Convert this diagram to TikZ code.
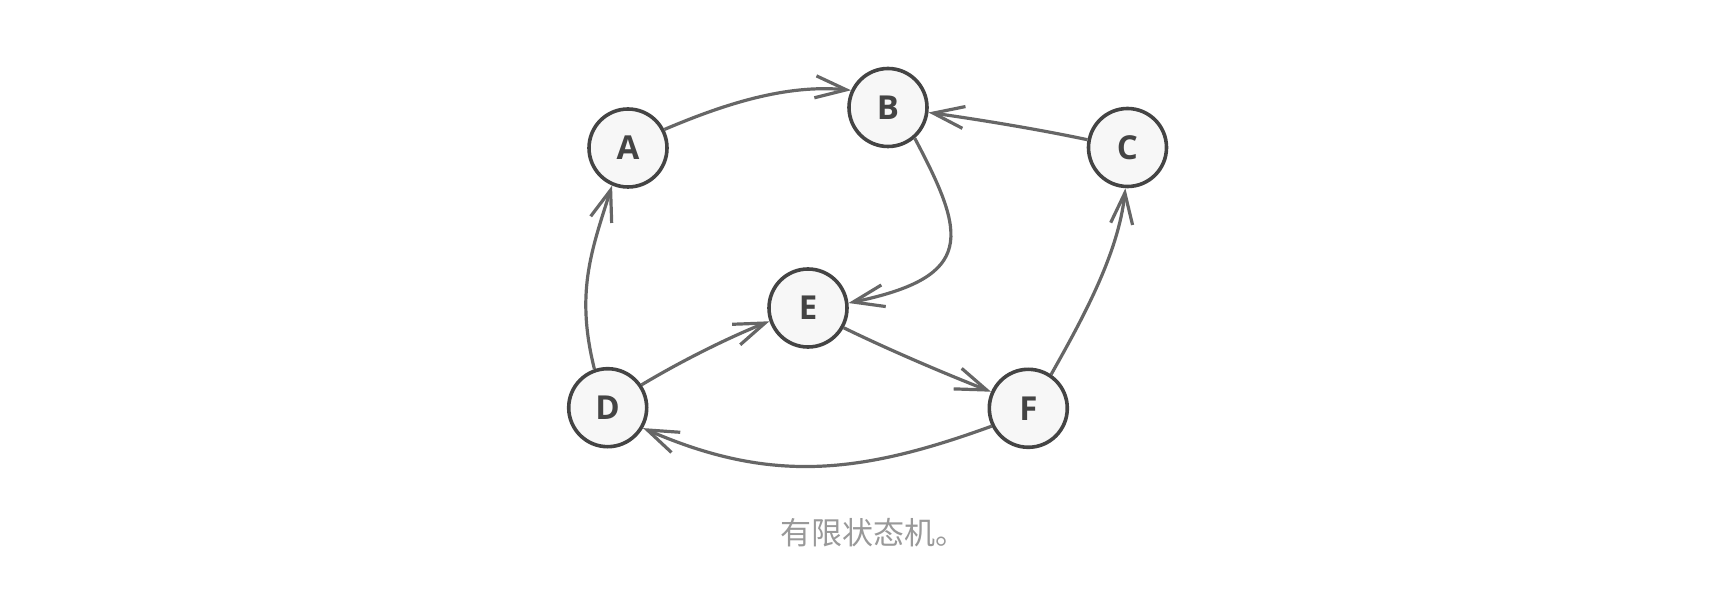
\documentclass[tikz,border=0pt]{standalone}
\usepackage{fontspec}
\setmainfont{Open Sans}
\newfontfamily\cjkfont{Noto Sans CJK SC}
\usetikzlibrary{arrows.meta}
\definecolor{nodeline}{HTML}{444444}
\definecolor{nodefill}{HTML}{F7F7F7}
\definecolor{edgecol}{HTML}{666666}
\definecolor{capcol}{HTML}{999999}
\begin{document}
\begin{tikzpicture}[x=0.5pt,y=0.5pt,
  state/.style={circle,draw=nodeline,fill=nodefill,line width=1.8pt,minimum size=39pt,inner sep=0pt,
    text=nodeline,font=\fontsize{16.5}{18}\selectfont\bfseries},
  conn/.style={draw=edgecol,line width=1.6pt,-{Straight Barb[length=15.5pt,width=11pt]}}]
\useasboundingbox (0,0) rectangle (1736,-604);
\node[state] (A) at (628,-148) {A};
\node[state] (B) at (888,-107.5) {B};
\node[state] (C) at (1127.5,-147.5) {C};
\node[state] (E) at (808,-308) {E};
\node[state] (D) at (607.7,-407.7) {D};
\node[state] (F) at (1028.3,-408.3) {F};
\node[text=capcol,font=\cjkfont\fontsize{15.5}{18}\selectfont] (cap) at (873,-533) {有限状态机。};
\path[conn] (A.27) .. controls +(23:65) and +(174.5:65) .. (B.155);
\path[conn] (C.169) .. controls +(168:50) and +(-8:50) .. (B.-7);
\path[conn] (B.-49) .. controls +(-62:110) and +(11.7:130) .. (E.7.6);
\path[conn] (D.109) .. controls +(104:78) and +(252.3:70) .. (A.247);
\path[conn] (D.34) .. controls +(31:45) and +(201.7:45) .. (E.199);
\path[conn] (E.-29) .. controls +(-26:50) and +(158.6:50) .. (F.156);
\path[conn] (F.56) .. controls +(60.5:65) and +(264:65) .. (C.267);
\path[conn] (F.206) .. controls +(200:140) and +(-23.5:140) .. (D.-30);
\end{tikzpicture}
\end{document}
